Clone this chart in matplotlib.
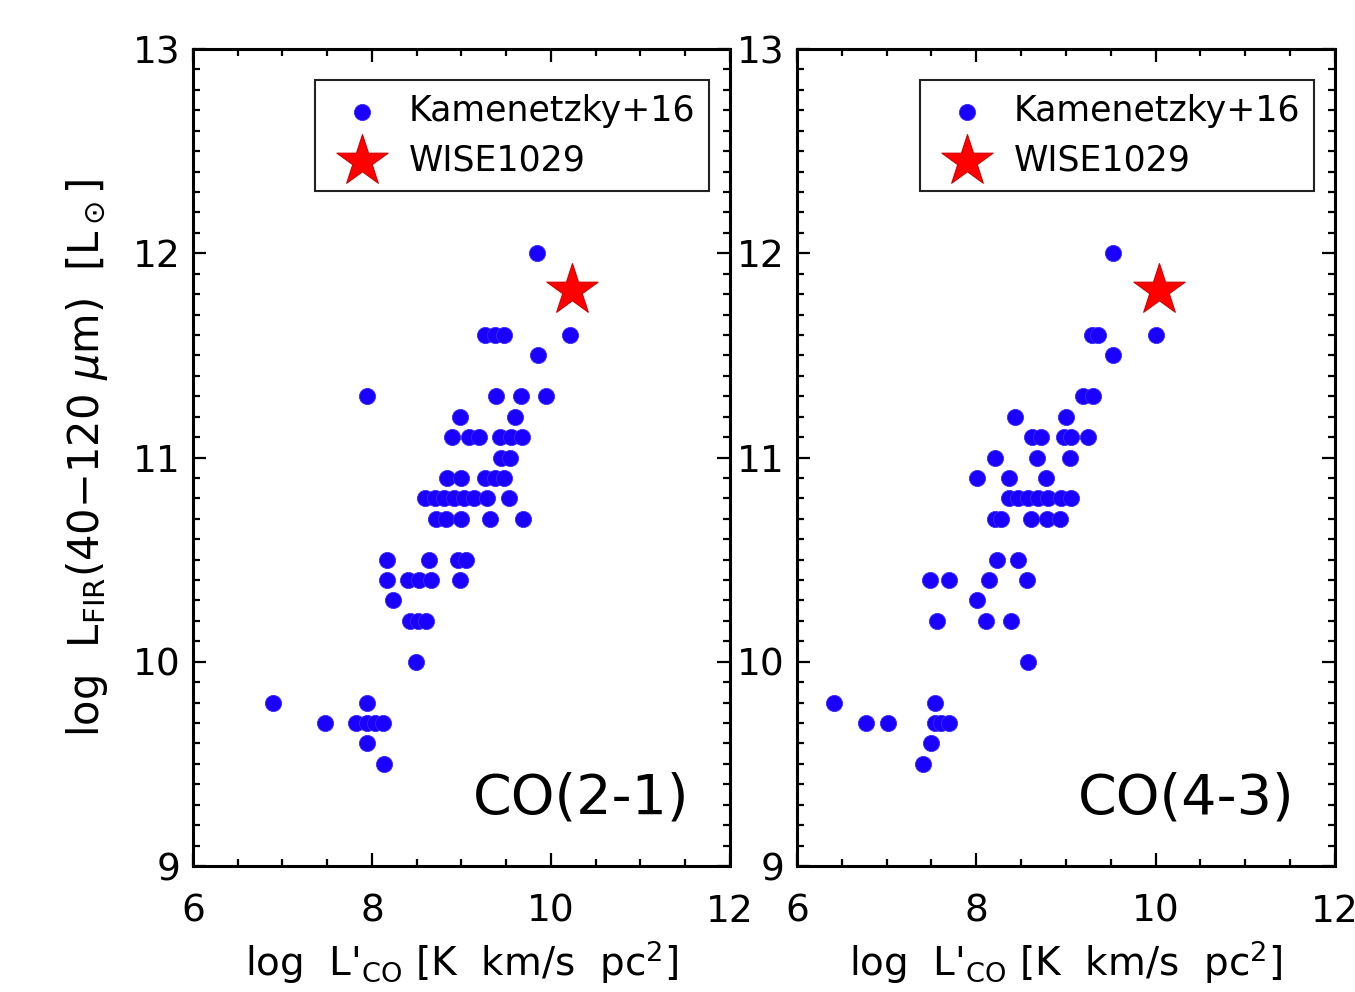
import matplotlib
matplotlib.use('Agg')
import matplotlib.pyplot as plt
import numpy as np
from matplotlib.ticker import MultipleLocator

# CO(2-1): log L'_CO vs log L_FIR, Kamenetzky+16 sample
co21_x = [9.84,
          9.26, 9.37, 9.48, 10.21,
          9.86,
          7.95, 9.39, 9.66, 9.95,
          8.98, 9.60,
          8.90, 9.08, 9.20, 9.43, 9.55, 9.68,
          9.44, 9.54,
          8.84, 9.00, 9.26, 9.37, 9.48,
          8.59, 8.70, 8.81, 8.92, 9.03, 9.14, 9.29, 9.53,
          8.72, 8.83, 9.00, 9.32, 9.69,
          8.17, 8.64, 8.96, 9.05,
          8.17, 8.40, 8.53, 8.66, 8.98,
          8.24,
          8.42, 8.51, 8.60,
          8.49,
          6.90, 7.94,
          7.47, 7.82, 7.94, 8.03, 8.12,
          7.94,
          8.13]
co21_y = [12.0,
          11.6, 11.6, 11.6, 11.6,
          11.5,
          11.3, 11.3, 11.3, 11.3,
          11.2, 11.2,
          11.1, 11.1, 11.1, 11.1, 11.1, 11.1,
          11.0, 11.0,
          10.9, 10.9, 10.9, 10.9, 10.9,
          10.8, 10.8, 10.8, 10.8, 10.8, 10.8, 10.8, 10.8,
          10.7, 10.7, 10.7, 10.7, 10.7,
          10.5, 10.5, 10.5, 10.5,
          10.4, 10.4, 10.4, 10.4, 10.4,
          10.3,
          10.2, 10.2, 10.2,
          10.0,
          9.8, 9.8,
          9.7, 9.7, 9.7, 9.7, 9.7,
          9.6,
          9.5]

# CO(4-3)
co43_x = [9.53,
          9.29, 9.36, 10.00,
          9.53,
          9.19, 9.30,
          8.43, 9.00,
          8.62, 8.72, 8.98, 9.06, 9.25,
          8.21, 8.68, 9.05,
          8.01, 8.37, 8.78,
          8.36, 8.47, 8.58, 8.69, 8.80, 8.95, 9.06,
          8.21, 8.28, 8.61, 8.79, 8.93,
          8.23, 8.46,
          7.48, 7.70, 8.14, 8.57,
          8.01,
          7.56, 8.11, 8.39,
          8.58,
          6.41, 7.54,
          6.77, 7.02, 7.54, 7.61, 7.69,
          7.49,
          7.40]
co43_y = [12.0,
          11.6, 11.6, 11.6,
          11.5,
          11.3, 11.3,
          11.2, 11.2,
          11.1, 11.1, 11.1, 11.1, 11.1,
          11.0, 11.0, 11.0,
          10.9, 10.9, 10.9,
          10.8, 10.8, 10.8, 10.8, 10.8, 10.8, 10.8,
          10.7, 10.7, 10.7, 10.7, 10.7,
          10.5, 10.5,
          10.4, 10.4, 10.4, 10.4,
          10.3,
          10.2, 10.2, 10.2,
          10.0,
          9.8, 9.8,
          9.7, 9.7, 9.7, 9.7, 9.7,
          9.6,
          9.5]

# WISE1029
wise_x = [10.24, 10.04]
wise_y = [11.82, 11.82]

panel_names = ['CO(2-1)', 'CO(4-3)']
x_ticks = [6, 8, 10, 12]
y_ticks = [9, 10, 11, 12, 13]

plt.rcParams['mathtext.fontset'] = 'dejavusans'
plt.rcParams['font.family'] = ['DejaVu Sans']


def draw_panel(ax, x, y, sx, sy, name):
    ax.scatter(x, y, s=135, color='#1a00ff', edgecolors='#3a2cff', linewidths=0.6,
               label='Kamenetzky+16', zorder=3)
    ax.scatter([sx], [sy], s=1500, marker='*', color='#ff0000', edgecolors='#d00000',
               linewidths=0.8, label='WISE1029', zorder=4)
    ax.set_xlim(6, 12)
    ax.set_ylim(9, 13)
    ax.set_xticks(x_ticks)
    ax.set_yticks(y_ticks)
    ax.xaxis.set_minor_locator(MultipleLocator(0.5))
    ax.yaxis.set_minor_locator(MultipleLocator(0.1))
    ax.tick_params(which='both', direction='in', top=True, right=True, width=1.6)
    ax.tick_params(which='major', length=9.5)
    ax.tick_params(which='minor', length=5)
    ax.tick_params(axis='x', labelsize=27, pad=20)
    ax.tick_params(axis='y', labelsize=27, pad=9)
    for sp in ax.spines.values():
        sp.set_linewidth(2.2)
    ax.text(0.925, 0.05, name, transform=ax.transAxes, ha='right', va='bottom', fontsize=40)
    leg = ax.legend(loc='upper right', bbox_to_anchor=(0.961, 0.962), borderaxespad=0,
                    scatterpoints=1, fontsize=25, fancybox=False, framealpha=1,
                    edgecolor='#222222', borderpad=0.4, labelspacing=0.45,
                    handletextpad=0.4, handlelength=1.9)
    leg.get_frame().set_linewidth(1.5)
    ax.set_xlabel(r"log  L$'_{\rm CO}$ [K  km/s  pc$^{2}$]", fontsize=28, labelpad=6)


fig = plt.figure(figsize=(13.55, 9.92), dpi=100)
ax1 = fig.add_axes([0.1424, 0.127, 0.3963, 0.8236])
ax2 = fig.add_axes([0.5882, 0.127, 0.3970, 0.8236])

draw_panel(ax1, co21_x, co21_y, wise_x[0], wise_y[0], panel_names[0])
draw_panel(ax2, co43_x, co43_y, wise_x[1], wise_y[1], panel_names[1])

ax1.set_ylabel(r"log  L$_{\rm FIR}$(40$-$120 $\mu$m)  [L$_\odot$]", fontsize=30, labelpad=16)

plt.savefig('out.png', dpi=100)
